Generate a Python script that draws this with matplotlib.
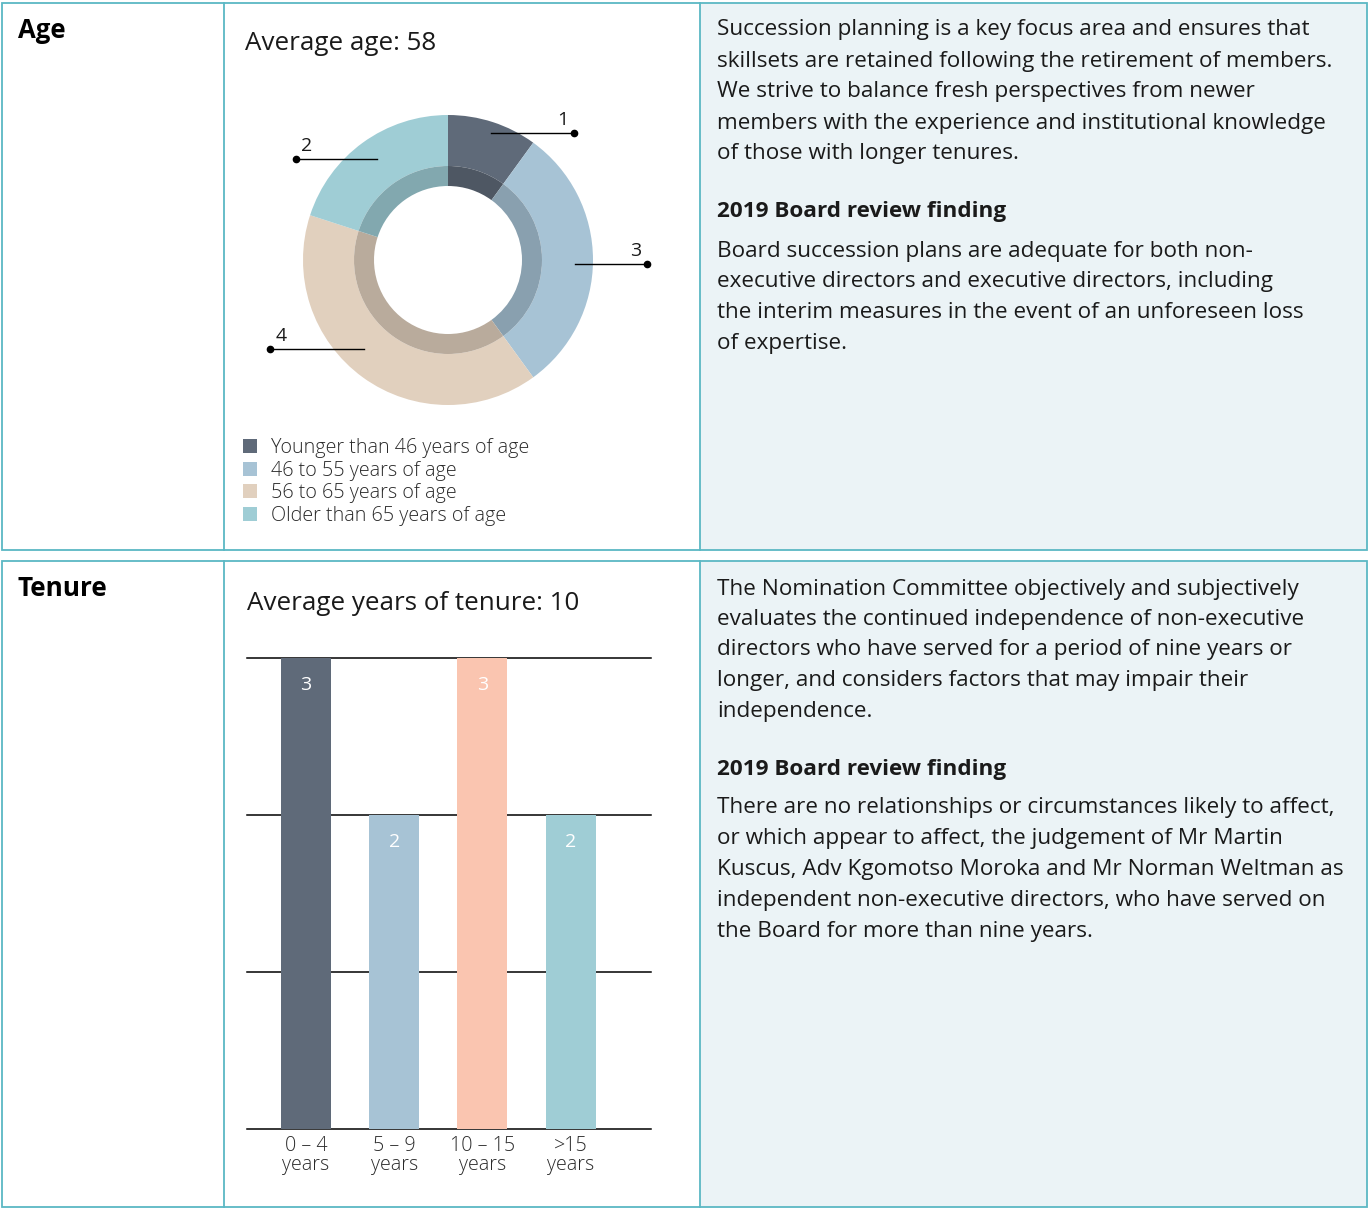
import numpy as np
import matplotlib
matplotlib.use("Agg")
import matplotlib.pyplot as plt
from matplotlib.patches import Rectangle
from matplotlib.colors import to_rgb

plt.rcParams['font.family'] = ['Open Sans', 'DejaVu Sans']

# Données
age_groups = ['Younger than 46 years of age', '46 to 55 years of age',
              '56 to 65 years of age', 'Older than 65 years of age']
age_counts = [1, 3, 4, 2]
age_colors = ['#5f6a79', '#a7c3d5', '#e1d0be', '#9fcdd5']

tenure_labels = ['0 – 4\nyears', '5 – 9\nyears', '10 – 15\nyears', '>15\nyears']
tenure_counts = [3, 2, 3, 2]
tenure_colors = ['#5f6a79', '#a7c3d5', '#fac5b0', '#9fcdd5']

avg_age = 58
avg_tenure = 10

age_text = ["Succession planning is a key focus area and ensures that",
            "skillsets are retained following the retirement of members.",
            "We strive to balance fresh perspectives from newer",
            "members with the experience and institutional knowledge",
            "of those with longer tenures."]
age_finding = ["Board succession plans are adequate for both non-",
               "executive directors and executive directors, including",
               "the interim measures in the event of an unforeseen loss",
               "of expertise."]
tenure_text = ["The Nomination Committee objectively and subjectively",
               "evaluates the continued independence of non-executive",
               "directors who have served for a period of nine years or",
               "longer, and considers factors that may impair their",
               "independence."]
tenure_finding = ["There are no relationships or circumstances likely to affect,",
                  "or which appear to affect, the judgement of Mr Martin",
                  "Kuscus, Adv Kgomotso Moroka and Mr Norman Weltman as",
                  "independent non-executive directors, who have served on",
                  "the Board for more than nine years."]

W, H = 1369, 1213
border = '#5bb8c4'
cell_bg = '#ebf3f6'
txt = '#1a1a1a'
soft = '#2a2a2a'
body = 16.2

fig = plt.figure(figsize=(W / 100, H / 100), dpi=100)


def px_axes(left, top, right, bottom):
    return fig.add_axes([left / W, 1 - bottom / H, (right - left) / W, (bottom - top) / H])


# Tableau de fond
bg = fig.add_axes([0, 0, 1, 1])
bg.set_xlim(0, W)
bg.set_ylim(H, 0)
bg.axis('off')

for top, bot in [(3, 550), (561, 1207)]:
    bg.add_patch(Rectangle((700, top), 667, bot - top, facecolor=cell_bg, edgecolor='none'))
    bg.add_patch(Rectangle((2, top), 1365, bot - top, facecolor='none', edgecolor=border, lw=1.3))
    for x in (224, 700):
        bg.plot([x, x], [top, bot], color=border, lw=1.3)

bg.text(18, 31, 'Age', fontsize=18.5, fontweight='bold', color='black', va='center')
bg.text(18, 588, 'Tenure', fontsize=18.8, fontweight='bold', color='black', va='center')

bg.text(245, 43, f'Average age: {avg_age}', fontsize=18.7, color=txt, va='center')
bg.text(247, 603, f'Average years of tenure: {avg_tenure}', fontsize=18.7, color=txt, va='center')


def para(lines, y0, step=31):
    for i, line in enumerate(lines):
        bg.text(717, y0 + i * step, line, fontsize=body, color=txt, va='center')


para(age_text, 30)
bg.text(717, 211, '2019 Board review finding', fontsize=body, fontweight='bold', color=txt, va='center')
para(age_finding, 251, 30.7)
para(tenure_text, 589, 30.5)
bg.text(717, 769, '2019 Board review finding', fontsize=body, fontweight='bold', color=txt, va='center')
para(tenure_finding, 808, 30.8)

# Légende
for i, (lab, col) in enumerate(zip(age_groups, age_colors)):
    y = 446 + i * 22.6
    bg.add_patch(Rectangle((243, y - 7), 14, 14, facecolor=col, edgecolor='none'))
    bg.text(271, y + 2, lab, fontsize=14.2, color=soft, fontweight='light', va='center')

# Anneau
cx, cy = 448, 260
L, T, R, B = 250, 100, 660, 420
ax = px_axes(L, T, R, B)
ax.pie(age_counts, colors=age_colors, radius=145, startangle=90, counterclock=False,
       wedgeprops=dict(width=51, edgecolor='none'))
inner = [tuple(np.array(to_rgb(c)) * 0.82) for c in age_colors]
ax.pie(age_counts, colors=inner, radius=94, startangle=90, counterclock=False,
       wedgeprops=dict(width=20, edgecolor='none'))
ax.set_xlim(L - cx, R - cx)
ax.set_ylim(cy - B, cy - T)
ax.set_aspect('equal')
ax.axis('off')

# Repères numérotés (départ du trait et point final, en pixels)
lead_start = [(491, 133), (575, 264), (364, 349), (377, 159)]
lead_end = [574, 647, 270, 296]
for n, (xs, ys), xe in zip(age_counts, lead_start, lead_end):
    x0, y0, x1 = xs - cx, cy - ys, xe - cx
    ax.plot([x0, x1], [y0, y0], color='black', lw=1.0)
    ax.plot(x1, y0, 'o', color='black', ms=4.5)
    off = -11 if x1 > x0 else 11
    ax.text(x1 + off, y0 + 4, str(n), fontsize=14, color=txt, ha='center', va='bottom')

# Barres
bx = px_axes(247, 658, 651, 1129)
pos = np.arange(len(tenure_counts))
for yv in range(0, 4):
    bx.axhline(yv, color='black', lw=1.1, zorder=1, clip_on=False)
bx.bar(pos, tenure_counts, width=0.567, color=tenure_colors, zorder=2)
for p, v in zip(pos, tenure_counts):
    bx.text(p, v - 0.17, str(v), color='white', fontsize=14, ha='center', va='center', zorder=3)
bx.set_xlim(-0.669, 3.91)
bx.set_ylim(0, 3)
bx.set_yticks([])
bx.set_xticks(pos)
bx.set_xticklabels(tenure_labels, fontsize=14.1, color=soft, fontweight='light', linespacing=0.92)
bx.tick_params(axis='x', length=0, pad=5)
for s in bx.spines.values():
    s.set_visible(False)

fig.savefig('out.png', dpi=100)
